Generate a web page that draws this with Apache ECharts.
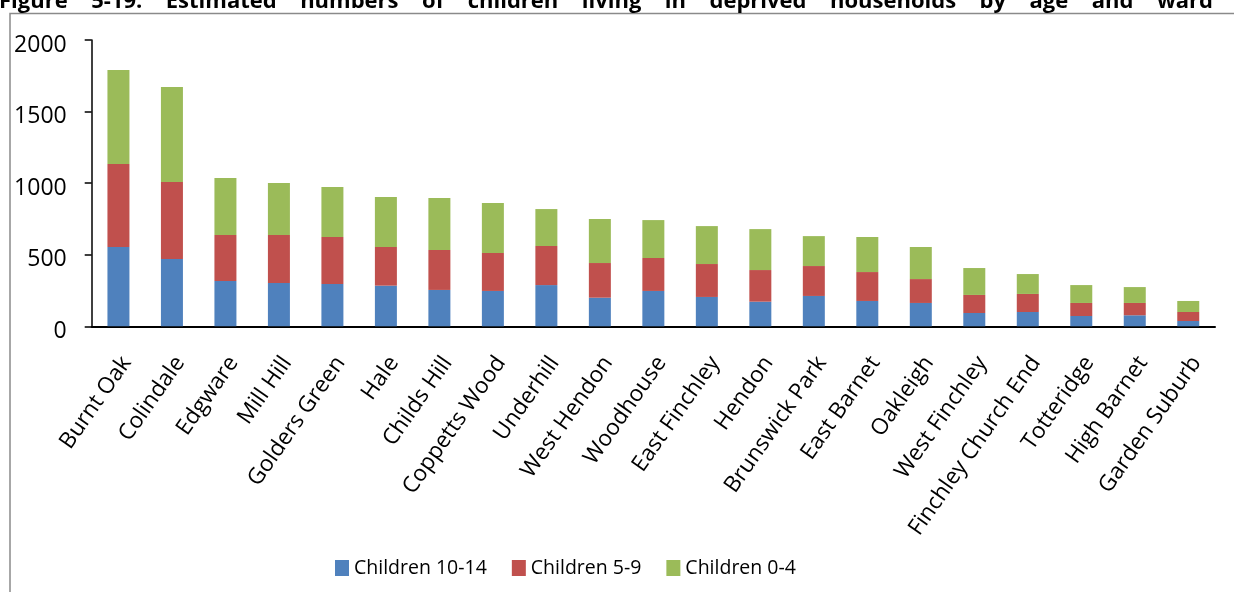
<!DOCTYPE html>
<html>
<head>
<meta charset="utf-8">
<script src="https://cdn.jsdelivr.net/npm/echarts@6/dist/echarts.min.js"></script>
<style>
  html, body { margin: 0; padding: 0; background: #fff; }
  #main { width: 1234px; height: 592px; }
</style>
</head>
<body>
<div id="main"></div>
<script>
// wards, sorted by total as in the figure
let wards = ['Burnt Oak', 'Colindale', 'Edgware', 'Mill Hill', 'Golders Green', 'Hale',
  'Childs Hill', 'Coppetts Wood', 'Underhill', 'West Hendon', 'Woodhouse', 'East Finchley',
  'Hendon', 'Brunswick Park', 'East Barnet', 'Oakleigh', 'West Finchley',
  'Finchley Church End', 'Totteridge', 'High Barnet', 'Garden Suburb']
let kids10to14 = [554, 470, 316, 302, 295, 284, 254, 247, 288, 200, 247, 205, 172, 212, 177, 163, 93, 100, 72, 77, 37]
let kids5to9 = [579, 538, 322, 336, 329, 270, 279, 265, 273, 242, 230, 230, 221, 209, 202, 167, 126, 126, 91, 86, 63]
let kids0to4 = [657, 663, 398, 363, 349, 349, 363, 349, 258, 307, 265, 265, 286, 209, 245, 224, 188, 139, 125, 111, 77]
let seriesNames = ['Children 10-14', 'Children 5-9', 'Children 0-4']
let yMin = 0, yMax = 2000, yStep = 500
let titleText = 'Figure 5-19: Estimated numbers of children living in deprived households by age and ward'

let font = '"Open Sans", Lato, sans-serif'
let colors = ['#4F81BD', '#C0504D', '#9BBB59']

// title is justified across the page like in the source document
function titleWords() {
  let ctx = document.createElement('canvas').getContext('2d')
  let titleFont = 'bold 22px ' + font
  ctx.font = titleFont
  let words = titleText.split(' ')
  let widths = words.map(w => ctx.measureText(w).width)
  let total = widths.reduce((a, b) => a + b, 0)
  let left = -1, right = 1213
  let gap = (right - left - total) / (words.length - 1)
  let x = left
  return words.map((w, i) => {
    let el = {
      type: 'text', x: x, y: 2, silent: true,
      style: { text: w, font: titleFont, fill: '#000', verticalAlign: 'middle' }
    }
    x += widths[i] + gap
    return el
  })
}

let chart = echarts.init(document.getElementById('main'))
let option = {
  animation: false,
  color: colors,
  textStyle: { fontFamily: font },
  graphic: [
    {
      type: 'rect', silent: true,
      shape: { x: 10, y: 13.5, width: 1400, height: 800 },
      style: { fill: 'none', stroke: '#8a8a8a', lineWidth: 1.5 }
    }
  ].concat(titleWords()),
  legend: {
    left: 335, top: 558, padding: 0,
    itemWidth: 14, itemHeight: 16, itemGap: 25,
    icon: 'rect',
    textStyle: { fontSize: 19.5, color: '#000', fontFamily: font },
    data: seriesNames
  },
  grid: { left: 91.7, right: 19, top: 40, bottom: 265.7, containLabel: false },
  xAxis: {
    type: 'category',
    data: wards,
    axisLine: { lineStyle: { color: '#000', width: 2 } },
    axisTick: { length: 7, lineStyle: { color: '#000', width: 1.5 } },
    axisLabel: {
      interval: 0, rotate: 55, margin: 44, padding: [0, -14, 0, 0],
      fontSize: 22.5, color: '#000', fontFamily: font
    }
  },
  yAxis: {
    type: 'value',
    min: yMin, max: yMax, interval: yStep,
    axisLine: { show: true, lineStyle: { color: '#000', width: 1.5 } },
    axisTick: { show: true, length: 7, lineStyle: { color: '#000', width: 1.5 } },
    splitLine: { show: false },
    axisLabel: {
      margin: 25, color: '#000', fontFamily: font,
      formatter: v => '{v|' + v + '}',
      rich: { v: { fontSize: 23, color: '#000', fontFamily: font, padding: [10, 0, 0, 0] } }
    }
  },
  series: [kids10to14, kids5to9, kids0to4].map((d, i) => ({
    name: seriesNames[i],
    type: 'bar',
    stack: 'kids',
    barWidth: 22,
    data: d
  }))
}
chart.setOption(option)
</script>
</body>
</html>
